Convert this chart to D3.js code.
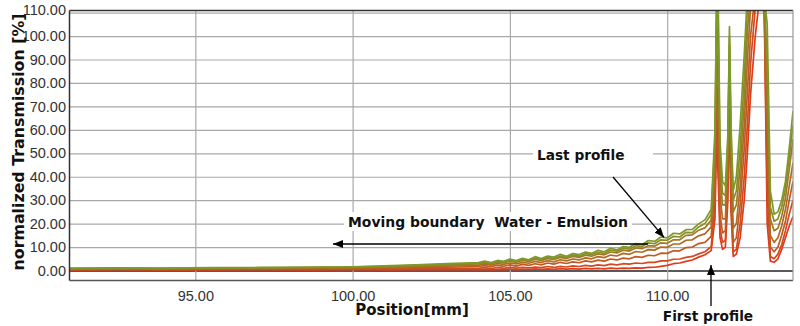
<!DOCTYPE html>
<html>
<head>
<meta charset="utf-8">
<script src="https://cdn.jsdelivr.net/npm/d3@7"></script>
<style>
  body { margin: 0; background: #fff; }
  svg { display: block; }
  .tick text { font-family: "Liberation Sans", Arial, sans-serif; font-size: 14.5px; fill: #333; }
  .note { font-family: "DejaVu Sans", Verdana, sans-serif; font-weight: bold; fill: #111; white-space: pre; }
</style>
</head>
<body>
<svg id="chart" width="800" height="326"></svg>
<script>
// Cell position along the sample (mm)
const positions = [91, 92.5, 94, 95.5, 97, 98.5, 100, 101, 102, 103, 104,
  104.2, 104.4, 104.6, 104.8, 105.0, 105.2, 105.4, 105.6, 105.8, 106.0,
  106.2, 106.4, 106.6, 106.8, 107.0, 107.2, 107.4, 107.6, 107.8, 108.0,
  108.2, 108.4, 108.6, 108.8, 109.0, 109.2, 109.4, 109.6, 109.8, 110.0,
  110.2, 110.4, 110.6, 110.8, 111.0, 111.2, 111.4,
  111.52, 111.57, 111.62, 111.68, 111.76, 111.85, 111.93, 111.98, 112.03, 112.1,
  112.2, 112.32, 112.45, 112.55, 112.65, 112.8, 112.95, 113.08, 113.18, 113.28,
  113.4, 113.52, 113.64, 113.76, 113.88, 114.0];

// Normalized transmission (%) of successive profiles, first to last
const profile1 = [0.3,0.4,0.3,0.3,0.4,0.3,0.4,0.3,0.4,0.4,0.4,
  0.5,0.3,0.5,0.4,0.6,0.4,0.6,0.5,0.7,0.5, 0.7,0.5,0.8,0.6,0.8,0.6,0.9,0.7,0.9,0.7,
  1.0,0.8,1.0,0.9,1.1,1.0,1.3,1.4,1.8,2.2, 2.9,3.2,3.9,4.5,5.7,6.7,8.5,
  22,58,40,14,9,10,30,72,25,6, 7,14,30,50,75,100,118,118,20,4, 3.5,5,9,14,19,23];
const profile2 = [0.4,0.5,0.4,0.5,0.5,0.5,0.6,0.6,0.7,0.8,0.9,
  1.2,0.8,1.3,0.9,1.3,1.0,1.4,1.1,1.5,1.2, 1.7,1.3,1.8,1.5,2.0,1.7,2.2,1.9,2.4,2.1,
  2.7,2.4,2.9,2.7,3.2,3.0,3.5,3.5,4.1,4.1, 4.8,4.9,5.6,6.0,7.1,8.0,10.2,
  28,70,52,18,12,13,36,78,30,8, 9,20,40,62,88,112,118,118,34,6, 5,7,11,17,24,30];
const profile3 = [0.5,0.6,0.6,0.7,0.7,0.8,0.9,1.0,1.2,1.4,1.7,
  2.1,1.6,2.3,1.8,2.4,1.9,2.6,2.2,2.9,2.4, 3.2,2.7,3.5,3.0,3.7,3.3,4.1,3.7,4.4,4.0,
  4.9,4.5,5.3,5.0,5.9,5.6,6.5,6.3,7.4,7.3, 8.4,8.4,9.8,10.0,11.5,12.0,14.6,
  36,84,66,24,16,17,42,84,38,12, 14,28,52,76,100,118,118,118,48,10, 8,10,15,21,30,38];
const profile4 = [0.6,0.7,0.7,0.8,0.9,1.0,1.1,1.3,1.6,1.9,2.3,
  2.8,2.3,3.0,2.6,3.2,2.8,3.5,3.1,3.9,3.4, 4.2,3.7,4.6,4.1,4.9,4.5,5.4,5.0,5.9,5.5,
  6.6,6.2,7.3,6.9,8.1,7.8,8.9,8.7,10.0,9.9, 11.3,11.3,12.9,13.1,14.8,15.6,18.6,
  44,96,80,32,22,22,48,90,46,18, 20,36,62,90,112,118,118,118,62,15, 12,14,19,26,36,46];
const profile5 = [0.7,0.8,0.8,0.9,1.0,1.2,1.3,1.6,1.9,2.3,2.8,
  3.3,2.8,3.6,3.2,4.0,3.5,4.3,3.9,4.8,4.2, 5.1,4.7,5.6,5.1,6.0,5.6,6.5,6.1,7.1,6.7,
  7.9,7.5,8.7,8.3,9.6,9.3,10.6,10.4,11.8,11.6, 13.1,13.1,15.0,15.2,17.2,18.2,21.5,
  50,106,96,40,28,28,52,96,52,25, 28,44,72,102,118,118,118,118,76,22, 17,18,23,31,43,56];
const profile6 = [0.8,0.9,0.9,1.0,1.1,1.3,1.5,1.8,2.2,2.6,3.1,
  3.6,3.1,3.9,3.5,4.3,3.8,4.8,4.2,5.2,4.7, 5.6,5.1,6.2,5.6,6.6,6.1,7.2,6.8,7.8,7.3,
  8.7,8.2,9.5,9.1,10.6,10.2,11.8,11.4,13.1,12.9, 14.6,14.3,16.3,16.2,18.6,20.0,24,
  56,114,108,48,33,32,55,100,57,30, 34,52,82,112,118,118,118,118,90,27, 21,22,27,35,48,62];
const profile7 = [1.0,1.1,1.0,1.2,1.3,1.4,1.6,2.0,2.4,2.9,3.4,
  4.0,3.4,4.3,3.9,4.9,4.2,5.2,4.6,5.9,5.1, 6.2,5.7,6.9,6.1,7.2,6.8,7.9,7.3,8.6,8.0,
  9.5,8.8,10.2,9.9,11.5,11.0,12.8,12.4,14.3,13.9, 15.9,15.6,17.4,17.5,19.9,21.6,26,
  60,118,118,55,38,36,58,104,62,34, 40,62,92,118,118,118,118,118,105,34, 24,25,30,38,52,68];
const profiles = [profile1, profile2, profile3, profile4, profile5, profile6, profile7];

const xTicks = [95, 100, 105, 110];
const yTicks = [0, 10, 20, 30, 40, 50, 60, 70, 80, 90, 100, 110];

const svg = d3.select("#chart");
const plot = { left: 69.5, right: 793, top: 10.5, bottom: 280.5 };

const x = d3.scaleLinear().domain([91, 114]).range([plot.left, plot.right]);
const y = d3.scaleLinear().domain([-4.26, 110.9]).range([plot.bottom, plot.top]);

// horizontal grid + y labels
const yAxis = d3.axisLeft(y).tickValues(yTicks).tickFormat(d3.format(".2f"))
  .tickSizeInner(-(plot.right - plot.left)).tickSizeOuter(0).tickPadding(3.5);
const gy = svg.append("g").attr("transform", `translate(${plot.left},0)`).call(yAxis);
gy.select(".domain").remove();
gy.selectAll(".tick line").attr("stroke", d => d === 0 ? "#222" : "#a9a9a9")
  .attr("stroke-width", d => d === 0 ? 1.6 : 1.2);
gy.selectAll(".tick text").filter(d => d === 110).attr("dy", "0.1em");

// vertical grid + x labels
const xAxis = d3.axisBottom(x).tickValues(xTicks).tickFormat(d3.format(".2f"))
  .tickSizeInner(-(plot.bottom - plot.top)).tickSizeOuter(0).tickPadding(0);
const gx = svg.append("g").attr("transform", `translate(0,${plot.bottom})`).call(xAxis);
gx.select(".domain").remove();
gx.selectAll(".tick line").attr("stroke", "#a9a9a9").attr("stroke-width", 1.2);
gx.selectAll(".tick text").attr("y", 10).attr("dy", "0.71em");

// profiles, first (red) underneath, last (green) on top
svg.append("clipPath").attr("id", "plotClip").append("rect")
  .attr("x", plot.left).attr("y", plot.top)
  .attr("width", plot.right - plot.left).attr("height", plot.bottom - plot.top);

const colour = d3.interpolateRgb("#e4391b", "#7c9a2a");
const line = d3.line().x((d, i) => x(positions[i])).y(d => y(d));

svg.append("g").attr("clip-path", "url(#plotClip)")
  .selectAll("path").data(profiles).join("path")
  .attr("d", line)
  .attr("fill", "none")
  .attr("stroke", (d, i) => colour(i / (profiles.length - 1)))
  .attr("stroke-width", 1.7)
  .attr("stroke-linejoin", "round");

// frame
const frame = svg.append("g").attr("fill", "none");
frame.append("line").attr("x1", plot.left).attr("x2", plot.left).attr("y1", plot.top).attr("y2", plot.bottom).attr("stroke", "#333").attr("stroke-width", 1.5);
frame.append("line").attr("x1", plot.left).attr("x2", plot.right).attr("y1", plot.top).attr("y2", plot.top).attr("stroke", "#333").attr("stroke-width", 1.5);
frame.append("line").attr("x1", plot.left).attr("x2", plot.right).attr("y1", plot.bottom).attr("y2", plot.bottom).attr("stroke", "#555").attr("stroke-width", 1.5);
frame.append("line").attr("x1", plot.right).attr("x2", plot.right).attr("y1", plot.top).attr("y2", plot.bottom).attr("stroke", "#999").attr("stroke-width", 1.2);

// axis titles
svg.append("text").attr("class", "note")
  .attr("transform", "translate(24,142) rotate(-90)")
  .attr("text-anchor", "middle").attr("font-size", 16)
  .attr("textLength", 257).attr("lengthAdjust", "spacingAndGlyphs")
  .text("normalized Transmission [%]");
svg.append("text").attr("class", "note")
  .attr("x", 412).attr("y", 315).attr("text-anchor", "middle").attr("font-size", 15)
  .text("Position[mm]");

// annotations
const defs = svg.append("defs");
defs.append("marker").attr("id", "head").attr("viewBox", "0 0 10 8")
  .attr("refX", 10).attr("refY", 4).attr("markerWidth", 10).attr("markerHeight", 8)
  .attr("markerUnits", "userSpaceOnUse").attr("orient", "auto")
  .append("path").attr("d", "M0,0 L10,4 L0,8 Z").attr("fill", "#000");

const notes = svg.append("g");
notes.append("rect").attr("x", 533).attr("y", 144).attr("width", 120).attr("height", 20).attr("fill", "#fff");
notes.append("rect").attr("x", 344).attr("y", 212).attr("width", 288).attr("height", 19).attr("fill", "#fff");

notes.append("text").attr("class", "note").attr("x", 537).attr("y", 159.5)
  .attr("font-size", 13.7).text("Last profile");
notes.append("text").attr("class", "note").attr("x", 348).attr("y", 226.5)
  .attr("font-size", 13.5).attr("textLength", 280).attr("lengthAdjust", "spacingAndGlyphs")
  .text("Moving boundary  Water - Emulsion");
notes.append("text").attr("class", "note").attr("x", 708).attr("y", 321)
  .attr("text-anchor", "middle").attr("font-size", 13.7).text("First profile");

notes.append("line").attr("x1", 613).attr("y1", 177).attr("x2", x(109.9)).attr("y2", y(14.1))
  .attr("stroke", "#000").attr("stroke-width", 1.3).attr("marker-end", "url(#head)");
notes.append("line").attr("x1", 648).attr("y1", 244).attr("x2", 333).attr("y2", 244)
  .attr("stroke", "#000").attr("stroke-width", 1.3).attr("marker-end", "url(#head)");
notes.append("line").attr("x1", 711).attr("y1", 306).attr("x2", 711).attr("y2", 265)
  .attr("stroke", "#000").attr("stroke-width", 1.3).attr("marker-end", "url(#head)");
</script>
</body>
</html>
